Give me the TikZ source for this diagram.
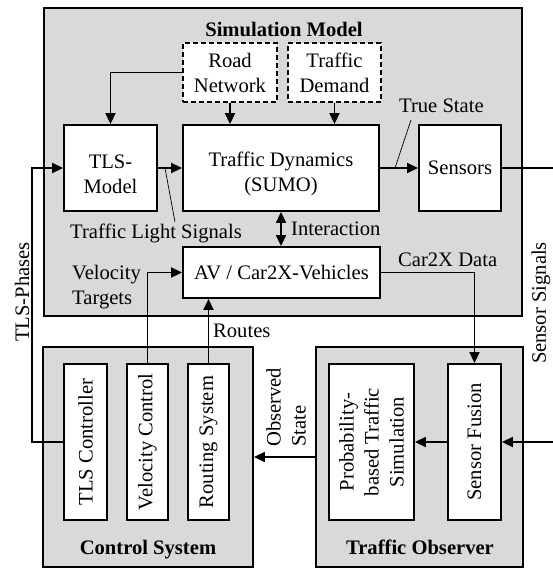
\documentclass[tikz,border=0pt]{standalone}
\usepackage{fontspec}
\setmainfont{Liberation Serif}
\usetikzlibrary{arrows.meta}
\definecolor{panelgray}{RGB}{217,217,217}
\tikzset{
  panel/.style={draw, line width=1.9pt, fill=panelgray, inner sep=0pt},
  block/.style={draw, line width=1.9pt, fill=white, align=center, inner sep=0pt},
  dashblock/.style={block, dash pattern=on 5pt off 3pt},
  heading/.style={font=\fontsize{20.6}{25}\selectfont\bfseries, inner sep=0pt},
  caption/.style={inner sep=0pt},
  flow/.style={line width=1.9pt, -{Triangle[length=11pt,width=10pt]}},
  bothflow/.style={line width=1.9pt, {Triangle[length=11pt,width=10pt]}-{Triangle[length=11pt,width=10pt]}},
  pinline/.style={line width=0.7pt},
}
\begin{document}
\begin{tikzpicture}[x=1pt, y=-1pt, font=\fontsize{20.6}{25}\selectfont]
\useasboundingbox (0,0) rectangle (552,568);

% containers
\node[panel, minimum width=478pt, minimum height=308pt] (sim) at (283,162) {};
\node[panel, minimum width=210pt, minimum height=220pt] (ctrl) at (148,457) {};
\node[panel, minimum width=207pt, minimum height=220pt] (obs) at (419.5,457) {};

\node[heading, anchor=base] (simtitle) at (284,36) {Simulation Model};
\node[heading, anchor=base] (ctrltitle) at (148,554) {Control System};
\node[heading, anchor=base] (obstitle) at (420,554) {Traffic Observer};

% simulation model blocks
\node[dashblock, minimum width=94pt, minimum height=59pt] (road) at (230,72.5) {Road\\Network};
\node[dashblock, minimum width=93pt, minimum height=59pt] (dem) at (334.5,72.5) {Traffic\\Demand};
\node[block, minimum width=93pt, minimum height=86pt,
      label={[align=center, yshift=-6pt]center:TLS-\\Model}] (tlsm) at (110.5,168) {};
\node[block, minimum width=196pt, minimum height=86pt,
      label={[align=center, yshift=-6pt]center:Traffic Dynamics\\(SUMO)}] (td) at (281,168) {};
\node[block, minimum width=82pt, minimum height=86pt] (sens) at (460,168) {Sensors};
\node[block, minimum width=197pt, minimum height=51pt] (av) at (281.5,272.5) {AV / Car2X-Vehicles};

% control system blocks
\node[block, minimum width=43pt, minimum height=156pt] (tlsc) at (85.5,442) {};
\node[rotate=90, inner sep=0pt] (tlsctext) at (tlsc.center) {TLS Controller};
\node[block, minimum width=41pt, minimum height=156pt] (vc) at (147.5,442) {};
\node[rotate=90, inner sep=0pt] (vctext) at (vc.center) {Velocity Control};
\node[block, minimum width=41pt, minimum height=156pt] (rs) at (208.5,442) {};
\node[rotate=90, inner sep=0pt] (rstext) at (rs.center) {Routing System};

% traffic observer blocks
\node[block, minimum width=85pt, minimum height=156pt] (prob) at (371.5,442) {};
\node[rotate=90, align=center, inner sep=0pt] (probtext) at (prob.center) {Probability-\\based Traffic\\Simulation};
\node[block, minimum width=53pt, minimum height=156pt] (sf) at (474.5,442) {};
\node[rotate=90, inner sep=0pt] (sftext) at (sf.center) {Sensor Fusion};

% connectors inside the simulation model
\draw[flow] (road.west) -| (tlsm.north);
\draw[flow] (road.south) -- (road.south |- td.north);
\draw[flow] (dem.south) -- (dem.south |- td.north);
\draw[flow] (tlsm.east) -- (td.west);
\draw[flow] (td.east) -- (sens.west);
\draw[bothflow] (td.south) -- (td.south |- av.north);

% connectors between the subsystems
\coordinate (sigA) at (556,168);
\coordinate (sigB) at (556,442);
\draw[flow] (sens.east) -- (sigA) -- (sigB) -- (sf.east);
\draw[flow] (av.east) -| (sf.north);
\draw[flow] (sf.west) -- (prob.east);
\draw[flow] (obs.west) -- (ctrl.east);
\draw[flow] (rs.north) -- (rs.north |- av.south);
\draw[flow] (vc.north) |- (av.west);
\coordinate (phA) at (32,442);
\draw[flow] (tlsc.west) -- (phA) |- (tlsm.west);

% labels
\coordinate (tlspinA) at (165,168);
\coordinate (tlspinB) at (175,222);
\draw[pinline] (tlspinA) -- (tlspinB);
\node[caption, anchor=base west] (tlslabel) at (70,238) {Traffic Light Signals};
\coordinate (truepinA) at (395,168);
\coordinate (truepinB) at (411,120);
\draw[pinline] (truepinA) -- (truepinB);
\node[caption, anchor=base west] (truelabel) at (399,112) {True State};
\node[caption, anchor=base west] (interlabel) at (291,235) {Interaction};
\node[caption, anchor=base west] (c2xlabel) at (398,266) {Car2X Data};
\node[caption, anchor=base west] (routeslabel) at (213,337) {Routes};
\node[caption, anchor=west, align=left] (vtlabel) at (72,287.5) {Velocity\\Targets};
\node[caption, rotate=90, anchor=west, align=left] (oslabel) at (286,447) {Observed\\State};
\node[caption, rotate=90] (phlabel) at (22,292) {TLS-Phases};
\node[caption, rotate=90] (siglabel) at (541,303) {Sensor Signals};
\end{tikzpicture}
\end{document}
